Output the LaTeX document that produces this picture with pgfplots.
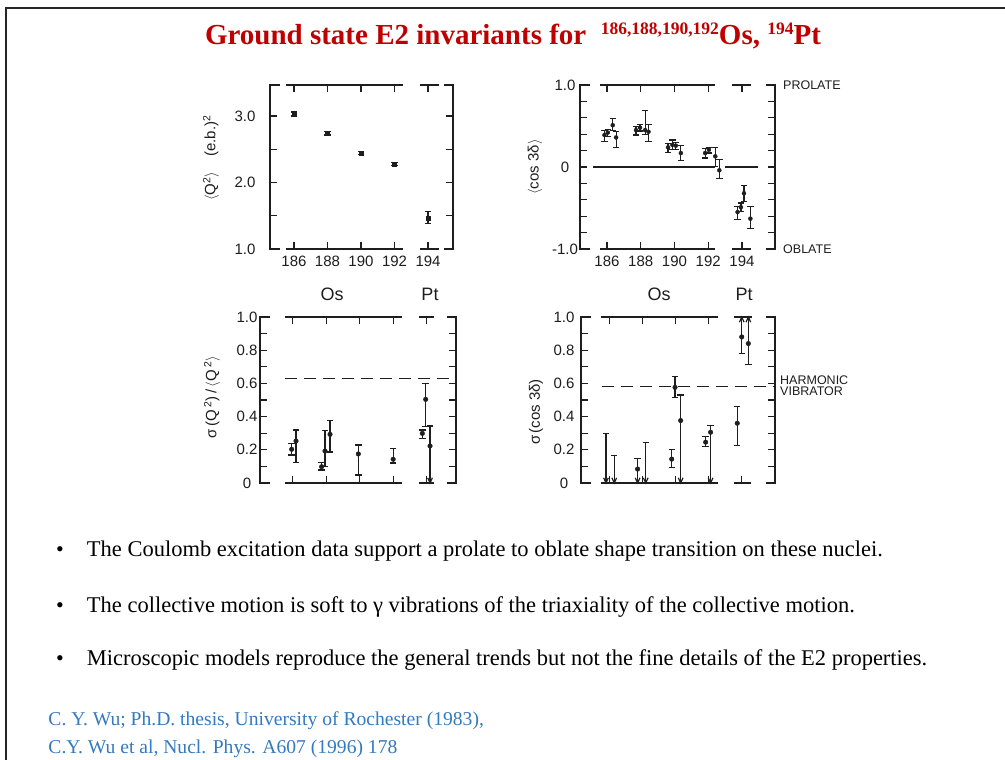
\documentclass[border=0pt]{standalone}
\usepackage{pgfplots}
\pgfplotsset{compat=1.18}
\usepackage{pgfplotstable}
\usepackage{fontspec}
\setmainfont{Liberation Serif}
\newfontfamily\plotfont{Liberation Sans}

\definecolor{titlered}{RGB}{192,0,0}
\definecolor{refblue}{RGB}{52,122,190}
\definecolor{ink}{RGB}{30,30,30}

% open arrow heads marking limits
\pgfdeclareplotmark{vdown}{%
  \pgfpathmoveto{\pgfqpoint{-0.9\pgfplotmarksize}{2\pgfplotmarksize}}%
  \pgfpathlineto{\pgfqpoint{0pt}{0pt}}%
  \pgfpathlineto{\pgfqpoint{0.9\pgfplotmarksize}{2\pgfplotmarksize}}%
  \pgfusepathqstroke}
\pgfdeclareplotmark{vup}{%
  \pgfpathmoveto{\pgfqpoint{-0.9\pgfplotmarksize}{-2\pgfplotmarksize}}%
  \pgfpathlineto{\pgfqpoint{0pt}{0pt}}%
  \pgfpathlineto{\pgfqpoint{0.9\pgfplotmarksize}{-2\pgfplotmarksize}}%
  \pgfusepathqstroke}

\pgfplotsset{
  panel/.style={
    scale only axis, clip=false, anchor=south west,
    axis line style={draw=none},
    tick align=inside,
    major tick length=7pt,
    tick style={ink, line width=1.2pt},
    ticklabel style={font=\plotfont\fontsize{15}{15}\selectfont, text=ink},
    xticklabel style={yshift=-3pt},
    xtick={186,188,190,192,194},
  },
  errs/.style={only marks, mark=*, mark size=2.3pt, ink,
    error bars/y dir=both, error bars/y explicit,
    error bars/error bar style={line width=1.2pt, ink},
    error bars/error mark options={rotate=90, line width=1.2pt, ink, mark size=3.2pt}},
  lim/.style={only marks, mark=#1, mark size=2.6pt,
    mark options={line width=1.2pt, ink}},
}
\tikzset{frame/.style={ink, line width=1.3pt, line cap=rect}}

% <Q^2> (e.b.)^2
\pgfplotstableread{
x y ep em
186 3.03 0.03 0.03
188 2.74 0.025 0.025
190 2.44 0.025 0.025
192 2.28 0.025 0.025
194 1.46 0.10 0.08
}\qsq

% <cos 3delta>
\pgfplotstableread{
x y ep em
185.85 0.39 0.06 0.08
186.05 0.42 0.04 0.05
186.34 0.51 0.08 0.06
186.54 0.36 0.07 0.12
187.72 0.45 0.04 0.06
187.96 0.48 0.04 0.04
188.26 0.45 0.24 0.05
188.46 0.43 0.09 0.12
189.62 0.24 0.05 0.06
189.88 0.27 0.06 0.06
190.08 0.26 0.04 0.05
190.38 0.17 0.09 0.09
191.82 0.17 0.06 0.06
192.04 0.21 0.03 0.04
192.42 0.13 0.11 0.12
192.66 -0.04 0.13 0.10
193.74 -0.55 0.07 0.09
193.94 -0.49 0.05 0.05
194.12 -0.32 0.09 0.10
194.50 -0.63 0.15 0.12
}\cosd

% sigma(Q^2)/<Q^2>
\pgfplotstableread{
x y ep em
185.94 0.203 0.036 0.034
186.20 0.253 0.066 0.128
187.73 0.098 0.025 0.020
187.93 0.193 0.124 0.095
188.23 0.293 0.084 0.106
189.92 0.175 0.054 0.127
192.00 0.143 0.066 0.023
193.74 0.299 0.020 0.030
193.94 0.504 0.096 0.164
194.20 0.223 0.120 0.223
}\sigq

% sigma(cos 3delta): measured points
\pgfplotstableread{
x y ep em
187.71 0.084 0.066 0.084
189.77 0.144 0.060 0.050
189.97 0.576 0.064 0.060
190.31 0.376 0.154 0.376
191.82 0.246 0.034 0.026
192.12 0.306 0.040 0.306
193.73 0.360 0.100 0.134
194.00 0.880 0.120 0.100
194.40 0.840 0.160 0.124
}\sigc
% sigma(cos 3delta): upper limits only
\pgfplotstableread{
x y ep em
185.80 0 0.300 0
186.30 0 0.166 0
188.20 0 0.244 0
}\sigclim

\begin{document}
\begin{tikzpicture}
\useasboundingbox (0,0) rectangle (1005pt,-760pt);
\fill[white] (0,0) rectangle (1005pt,-760pt);
\draw[black!85, line width=2.2pt, line join=miter] (6.2pt,-761pt) -- (6.2pt,-8.3pt) -- (1006pt,-8.3pt);

% title
\node[anchor=base, text=titlered, font=\fontsize{29}{31}\selectfont\bfseries, inner sep=0pt]
  at (513pt,-45pt)
  {Ground state E2 invariants for\ \ \raisebox{10.8pt}{\fontsize{17.5}{17.5}\selectfont 186,188,190,192}Os, \raisebox{10.8pt}{\fontsize{17.5}{17.5}\selectfont 194}Pt};

% ---------- top left ----------
\begin{axis}[panel, at={(270pt,-249pt)}, width=183pt, height=164pt,
  xmin=184.57, xmax=195.49, ymin=1, ymax=3.466,
  ytick={1,1.5,2,2.5,3}, yticklabels={1.0,,2.0,,3.0},
  xticklabels={186,188,190,192,194},
  yticklabel style={anchor=center, xshift=-25pt}]
  \draw[frame] ([xshift=9pt]rel axis cs:0,0) -- (rel axis cs:0,0) -- (rel axis cs:0,1) -- ([xshift=9pt]rel axis cs:0,1);
  \draw[frame] ([xshift=-8pt]rel axis cs:1,0) -- (rel axis cs:1,0) -- (rel axis cs:1,1) -- ([xshift=-8pt]rel axis cs:1,1);
  \draw[frame] (axis cs:185.58,3.466) -- (axis cs:192.45,3.466);
  \draw[frame] (axis cs:193.58,3.466) -- (axis cs:194.6,3.466);
  \draw[frame] (axis cs:185.58,1) -- (axis cs:192.45,1);
  \draw[frame] (axis cs:193.58,1) -- (axis cs:194.6,1);
  \addplot[errs, mark=square*, mark size=2pt] table[x=x, y=y, y error plus=ep, y error minus=em] {\qsq};
\end{axis}

% ---------- top right ----------
\begin{axis}[panel, at={(580pt,-249pt)}, width=195pt, height=164pt,
  xmin=184.4, xmax=195.96, ymin=-1, ymax=1,
  ytick={-1,-0.8,-0.6,-0.4,-0.2,0,0.2,0.4,0.6,0.8,1},
  yticklabels={-1.0,,,,,0,,,,,1.0},
  xticklabels={186,188,190,192,194},
  yticklabel style={anchor=center, xshift=-15pt}]
  \draw[frame] ([xshift=9pt]rel axis cs:0,0) -- (rel axis cs:0,0) -- (rel axis cs:0,1) -- ([xshift=9pt]rel axis cs:0,1);
  \draw[frame] ([xshift=-8pt]rel axis cs:1,0) -- (rel axis cs:1,0) -- (rel axis cs:1,1) -- ([xshift=-8pt]rel axis cs:1,1);
  \draw[frame] (axis cs:185.64,1) -- (axis cs:192.36,1);
  \draw[frame] (axis cs:193.47,1) -- (axis cs:194.47,1);
  \draw[frame] (axis cs:185.64,-1) -- (axis cs:192.36,-1);
  \draw[frame] (axis cs:193.47,-1) -- (axis cs:194.47,-1);
  \addplot[ink, line width=1.2pt] coordinates {(185.2,0) (192.4,0)};
  \addplot[ink, line width=1.2pt] coordinates {(193.0,0) (194.95,0)};
  \addplot[errs, mark size=2pt] table[x=x, y=y, y error plus=ep, y error minus=em] {\cosd};
\end{axis}

% ---------- bottom left ----------
\begin{axis}[panel, at={(260pt,-483pt)}, width=196pt, height=166pt,
  xmin=184.05, xmax=195.75, ymin=0, ymax=1,
  ytick={0,0.1,0.2,0.3,0.4,0.5,0.6,0.7,0.8,0.9,1},
  yticklabels={0,,0.2,,0.4,,0.6,,0.8,,1.0},
  xticklabels={},
  yticklabel style={anchor=center, xshift=-13pt}]
  \draw[frame] ([xshift=9pt]rel axis cs:0,0) -- (rel axis cs:0,0) -- (rel axis cs:0,1) -- ([xshift=9pt]rel axis cs:0,1);
  \draw[frame] ([xshift=-8pt]rel axis cs:1,0) -- (rel axis cs:1,0) -- (rel axis cs:1,1) -- ([xshift=-8pt]rel axis cs:1,1);
  \draw[frame] (axis cs:185.56,1) -- (axis cs:192.5,1);
  \draw[frame] (axis cs:193.6,1) -- (axis cs:194.4,1);
  \draw[frame] (axis cs:185.56,0) -- (axis cs:192.5,0);
  \draw[frame] (axis cs:193.6,0) -- (axis cs:194.4,0);
  \addplot[ink, line width=1.2pt, dash pattern=on 12pt off 7pt] coordinates {(185.56,0.63) (195.7,0.63)};
  \addplot[errs] table[x=x, y=y, y error plus=ep, y error minus=em] {\sigq};
  \addplot[lim=vdown] coordinates {(194.2,0)};
\end{axis}

% ---------- bottom right ----------
\begin{axis}[panel, at={(581pt,-483pt)}, width=194pt, height=166pt,
  xmin=184.29, xmax=196.01, ymin=0, ymax=1,
  ytick={0,0.1,0.2,0.3,0.4,0.5,0.6,0.7,0.8,0.9,1},
  yticklabels={0,,0.2,,0.4,,0.6,,0.8,,1.0},
  xticklabels={},
  yticklabel style={anchor=center, xshift=-17pt}]
  \draw[frame] ([xshift=9pt]rel axis cs:0,0) -- (rel axis cs:0,0) -- (rel axis cs:0,1) -- ([xshift=9pt]rel axis cs:0,1);
  \draw[frame] ([xshift=-8pt]rel axis cs:1,0) -- (rel axis cs:1,0) -- (rel axis cs:1,1) -- ([xshift=-8pt]rel axis cs:1,1);
  \draw[frame] (axis cs:185.54,1) -- (axis cs:192.5,1);
  \draw[frame] (axis cs:193.55,1) -- (axis cs:194.5,1);
  \draw[frame] (axis cs:185.54,0) -- (axis cs:192.5,0);
  \draw[frame] (axis cs:193.55,0) -- (axis cs:194.5,0);
  \addplot[ink, line width=1.2pt, dash pattern=on 12pt off 7pt] coordinates {(185.54,0.58) (196.0,0.58)};
  \addplot[errs] table[x=x, y=y, y error plus=ep, y error minus=em] {\sigc};
  \addplot[errs, lim=vdown] table[x=x, y=y, y error plus=ep, y error minus=em] {\sigclim};
  \addplot[lim=vdown] coordinates {(187.71,0) (190.31,0) (192.12,0)};
  \addplot[lim=vup] coordinates {(194.0,1) (194.4,1)};
\end{axis}

% axis titles
\begin{scope}[font=\plotfont\fontsize{15}{15}\selectfont, text=ink]
  \node[rotate=90] at (211pt,-158pt) {$\langle$Q\textsuperscript{2}$\rangle$\quad(e.b.)\textsuperscript{2}};
  \node[rotate=90] at (535pt,-167pt) {$\langle$cos 3δ$\rangle$};
  \node[rotate=90] at (212pt,-397pt) {σ\,(Q\,\textsuperscript{2})\,/\,$\langle$Q\,\textsuperscript{2}$\rangle$};
  \node[rotate=90] at (536pt,-412pt) {σ\,(cos 3δ)};
\end{scope}
\begin{scope}[font=\plotfont\fontsize{18}{18}\selectfont, text=ink]
  \node at (332pt,-294pt) {Os};
  \node at (430pt,-294pt) {Pt};
  \node at (659pt,-294pt) {Os};
  \node at (744pt,-294pt) {Pt};
\end{scope}
\begin{scope}[font=\plotfont\fontsize{12.5}{12.5}\selectfont, text=ink, inner sep=0pt]
  \node[anchor=west] at (783pt,-85pt) {PROLATE};
  \node[anchor=west] at (783pt,-249pt) {OBLATE};
  \node[anchor=west] at (780pt,-380pt) {HARMONIC};
  \node[anchor=west] at (780pt,-391pt) {VIBRATOR};
\end{scope}

% bullet points
\begin{scope}[font=\fontsize{22.5}{24}\selectfont, inner sep=0pt]
  \node[anchor=base] at (60pt,-556.5pt) {\fontsize{22}{22}\selectfont •};
  \node[anchor=base west] at (86.7pt,-556.5pt) {The Coulomb excitation data support a prolate to oblate shape transition on these nuclei.};
  \node[anchor=base] at (60pt,-612.5pt) {\fontsize{22}{22}\selectfont •};
  \node[anchor=base west] at (86.7pt,-612.5pt) {The collective motion is soft to γ vibrations of the triaxiality of the collective motion.};
  \node[anchor=base] at (60pt,-665.5pt) {\fontsize{22}{22}\selectfont •};
  \node[anchor=base west] at (86.7pt,-665.5pt) {Microscopic models reproduce the general trends but not the fine details of the E2 properties.};
\end{scope}

% references
\begin{scope}[font=\fontsize{19.6}{22}\selectfont, text=refblue, inner sep=0pt]
  \node[anchor=base west] at (48.3pt,-725pt) {C. Y. Wu; Ph.D. thesis, University of Rochester (1983),};
  \node[anchor=base west] at (48.3pt,-753pt) {C.Y. Wu et al, Nucl. Phys. A607 (1996) 178};
\end{scope}
\end{tikzpicture}
\end{document}
